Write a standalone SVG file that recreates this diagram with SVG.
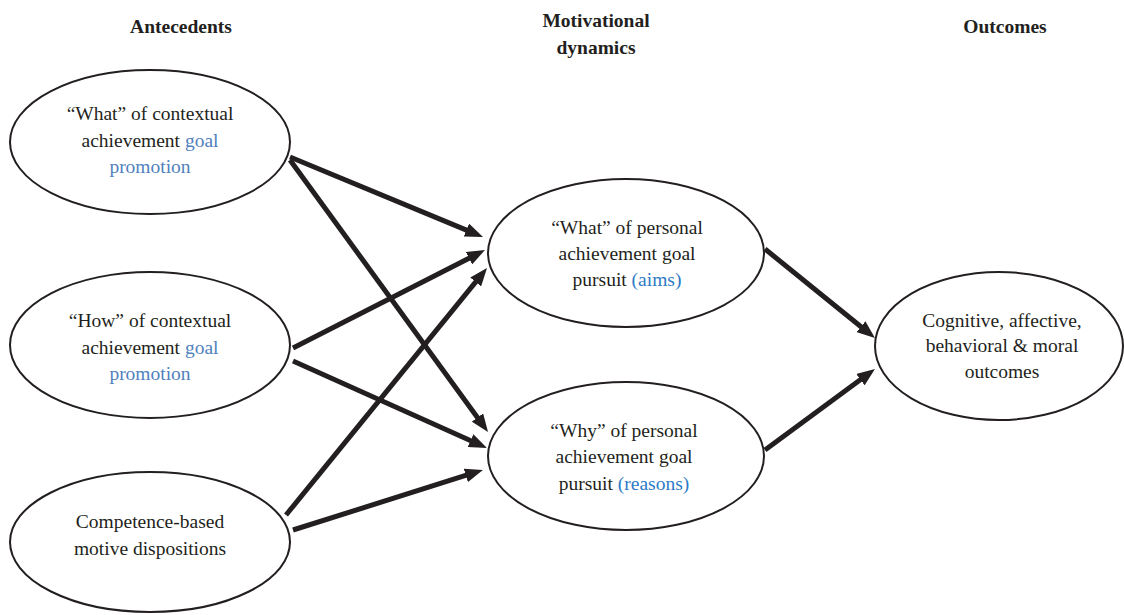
<svg xmlns="http://www.w3.org/2000/svg" width="1124" height="615" viewBox="0 0 1124 615">
<style>
.n{fill:#fff;stroke:#231f20;stroke-width:2}
.t{font-family:"Liberation Serif",serif;font-size:19.5px;fill:#231f20;text-anchor:middle}
.h{font-family:"Liberation Serif",serif;font-size:19.5px;font-weight:bold;fill:#231f20;text-anchor:middle}
.b{fill:#4f81bd}
.c{fill:#2e7bc6}
.e{stroke:#231f20;stroke-width:5;fill:none;marker-end:url(#ah)}
</style>
<defs>
<marker id="ah" markerUnits="userSpaceOnUse" markerWidth="18" markerHeight="14" viewBox="0 0 18 14" refX="4" refY="7" orient="auto">
<path d="M0,0 L18,7 L0,14 z" fill="#231f20"/>
</marker>
</defs>
<rect width="1124" height="615" fill="#fff"/>
<g id="headers">
<text class="h" x="181" y="33">Antecedents</text>
<text class="h" x="596" y="27">Motivational</text>
<text class="h" x="596" y="54">dynamics</text>
<text class="h" x="1005" y="33">Outcomes</text>
</g>
<g id="connectors">
<line class="e" x1="290" y1="157" x2="470.1" y2="231.6"/>
<line class="e" x1="290" y1="160" x2="479.8" y2="420.7"/>
<line class="e" x1="293" y1="348" x2="472.5" y2="256.4"/>
<line class="e" x1="293" y1="361" x2="474.2" y2="442.3"/>
<line class="e" x1="286" y1="515" x2="478.2" y2="278.9"/>
<line class="e" x1="293" y1="530" x2="469.6" y2="474.2"/>
<line class="e" x1="765" y1="249" x2="864.1" y2="329.2"/>
<line class="e" x1="765" y1="450" x2="863.7" y2="377.3"/>
</g>
<g id="what-context">
<ellipse class="n" cx="150" cy="142" rx="140" ry="72"/>
<text class="t" x="150" y="120">“What” of contextual</text>
<text class="t" x="150" y="147">achievement <tspan class="b">goal</tspan></text>
<text class="t b" x="150" y="173">promotion</text>
</g>
<g id="how-context">
<ellipse class="n" cx="150" cy="345" rx="140" ry="73"/>
<text class="t" x="150" y="327">“How” of contextual</text>
<text class="t" x="150" y="354">achievement <tspan class="b">goal</tspan></text>
<text class="t b" x="150" y="380">promotion</text>
</g>
<g id="competence">
<ellipse class="n" cx="150" cy="542" rx="140" ry="70"/>
<text class="t" x="150" y="528">Competence-based</text>
<text class="t" x="150" y="555">motive dispositions</text>
</g>
<g id="what-personal">
<ellipse class="n" cx="626" cy="253" rx="138" ry="74"/>
<text class="t" x="627" y="234">“What” of personal</text>
<text class="t" x="627" y="260">achievement goal</text>
<text class="t" x="627" y="286">pursuit <tspan class="c">(aims)</tspan></text>
</g>
<g id="why-personal">
<ellipse class="n" cx="626" cy="456" rx="138" ry="74"/>
<text class="t" x="624" y="437">“Why” of personal</text>
<text class="t" x="624" y="463">achievement goal</text>
<text class="t" x="624" y="490">pursuit <tspan class="c">(reasons)</tspan></text>
</g>
<g id="outcomes">
<ellipse class="n" cx="999" cy="346" rx="124" ry="74"/>
<text class="t" x="1002" y="327">Cognitive, affective,</text>
<text class="t" x="1002" y="352">behavioral &amp; moral</text>
<text class="t" x="1002" y="378">outcomes</text>
</g>
</svg>
